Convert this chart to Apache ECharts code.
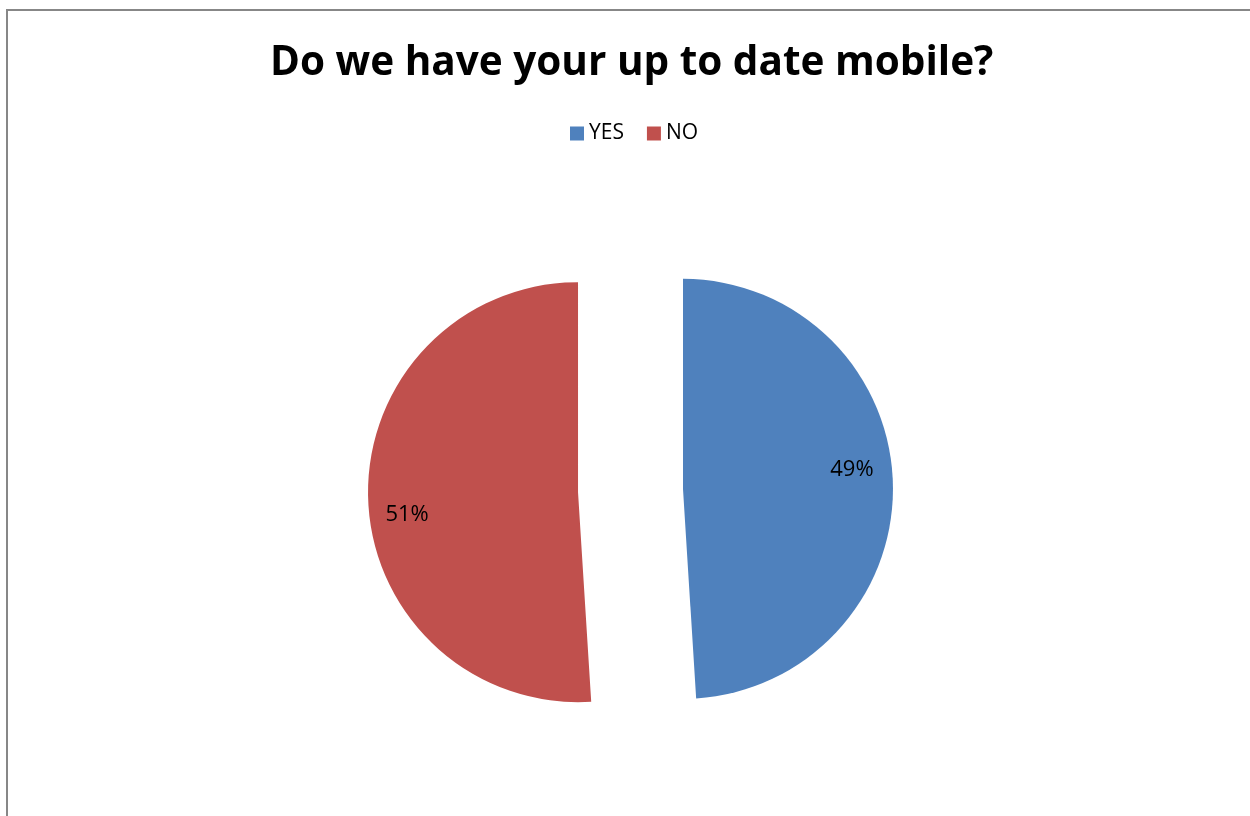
<!DOCTYPE html>
<html>
<head>
<meta charset="utf-8">
<style>
  html, body { margin: 0; padding: 0; background: #ffffff; }
  #chart { width: 1250px; height: 816px; }
</style>
<script src="https://cdn.jsdelivr.net/npm/echarts@6/dist/echarts.min.js"></script>
</head>
<body>
<div id="chart"></div>
<script>
// Survey answers: share of respondents (percent)
const categories = ['YES', 'NO'];
const shares = [49, 51];
const sliceColors = ['#4F81BD', '#C0504D'];

// Label nudges so the percentages sit toward the outer part of each slice
const labelShift = [[61, -16], [-63, 19]];

const chart = echarts.init(document.getElementById('chart'));

chart.setOption({
  backgroundColor: '#ffffff',
  animation: false,
  title: {
    text: 'Do we have your up to date mobile?',
    left: 265,
    top: 38,
    textStyle: {
      fontFamily: 'Open Sans',
      fontWeight: 'bold',
      fontSize: 40.5,
      color: '#000000'
    }
  },
  legend: {
    data: categories,
    left: 565,
    top: 118,
    icon: 'rect',
    itemWidth: 14,
    itemHeight: 14,
    itemGap: 23,
    selectedMode: false,
    textStyle: {
      fontFamily: 'Open Sans',
      fontSize: 21,
      color: '#000000'
    }
  },
  graphic: [{
    type: 'rect',
    silent: true,
    shape: { x: 7, y: 10, width: 1300, height: 900 },
    style: { fill: 'none', stroke: '#878787', lineWidth: 2 }
  }],
  series: [{
    type: 'pie',
    center: [630.5, 490.5],
    radius: 210,
    startAngle: 90,
    clockwise: true,
    selectedMode: 'multiple',
    selectedOffset: 52.5,
    silent: true,
    label: {
      show: true,
      position: 'inside',
      formatter: '{d}%',
      fontFamily: 'Open Sans',
      fontSize: 22,
      color: '#000000'
    },
    labelLine: { show: false },
    labelLayout: function (params) {
      const s = labelShift[params.dataIndex];
      return { dx: s[0], dy: s[1] };
    },
    emphasis: { disabled: true },
    select: { itemStyle: { borderWidth: 0 } },
    data: categories.map(function (name, i) {
      return {
        name: name,
        value: shares[i],
        selected: true,
        itemStyle: { color: sliceColors[i], borderWidth: 0 }
      };
    })
  }]
});
</script>
</body>
</html>
